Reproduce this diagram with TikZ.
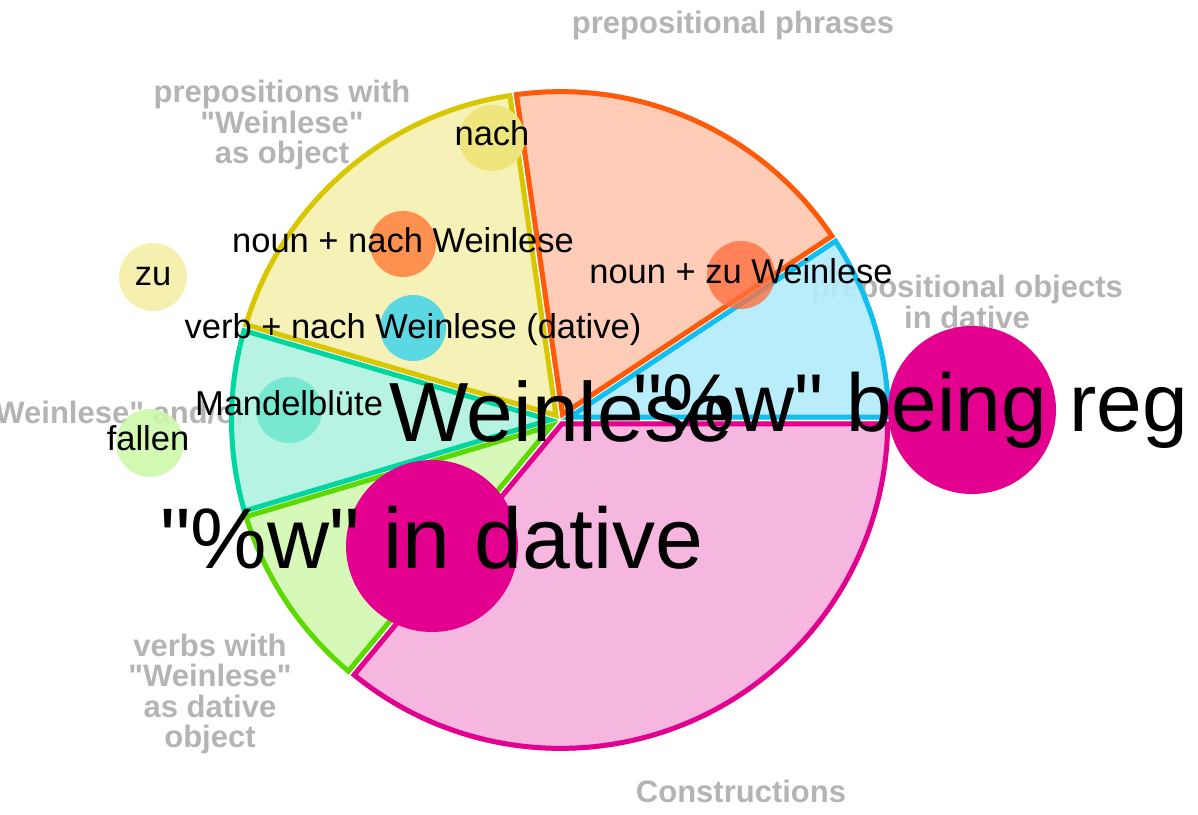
\documentclass[tikz,border=0pt]{standalone}
\usepackage{fontspec}
\setmainfont{Liberation Sans}[Ligatures=TeXOff]
\usetikzlibrary{calc}

\definecolor{bluefill}{HTML}{B3ECFB}
\definecolor{bluedraw}{HTML}{10BEF0}
\definecolor{salmonfill}{HTML}{FFC9B1}
\definecolor{salmondraw}{HTML}{FF5A0A}
\definecolor{yellowfill}{HTML}{F5F1B1}
\definecolor{yellowdraw}{HTML}{D8C700}
\definecolor{tealfill}{HTML}{B1F2E1}
\definecolor{tealdraw}{HTML}{00D7A0}
\definecolor{greenfill}{HTML}{D3F8B3}
\definecolor{greendraw}{HTML}{5CDA00}
\definecolor{pinkfill}{HTML}{F4B0DD}
\definecolor{pinkdraw}{HTML}{E2008F}
\definecolor{magentabub}{HTML}{E4008F}
\definecolor{labelgray}{HTML}{B4B4B4}

% outline of one wedge: start angle, end angle (counter-clockwise, degrees)
\newcommand{\wedgepath}[2]{%
  ($(C)+({-(#1+#2)/2}:1.5)$) -- ++({-#1}:329.5)
  arc[start angle=-#1, end angle=-#2, radius=329.5] -- cycle}

% filled wedge with a border lying inside its own outline
\newcommand{\pieslice}[4]{%
  \begin{scope}
    \clip \wedgepath{#1}{#2};
    \fill[wedgefill, #3] \wedgepath{#1}{#2};
    \draw[wedgeline, #4] \wedgepath{#1}{#2};
  \end{scope}}

\begin{document}
\begin{tikzpicture}[x=1pt, y=-1pt,
  wedgefill/.style={fill opacity=0.92},
  wedgeline/.style={line width=10pt, line join=miter},
  bubble/.style={circle, inner sep=0pt, minimum size=#1},
  graylabel/.style={text=labelgray, font=\fontsize{31}{30.5}\selectfont\bfseries,
    inner sep=0pt, align=center},
  smalltext/.style={font=\fontsize{34.5}{36}\selectfont, inner sep=0pt, anchor=base},
  bigtext/.style={font=\fontsize{#1}{#1}\selectfont, inner sep=0pt, anchor=base}
]
\useasboundingbox (0,0) rectangle (1198,814);
\clip (0,0) rectangle (1198,814);

\coordinate (C) at (560,420);

% category labels around the pie
\node[graylabel, anchor=base] (lbl-pp) at (733,33) {prepositional phrases};
\node[graylabel] (lbl-pw) at (282,125) {prepositions with\\"Weinlese"\\as object};
\node[graylabel] (lbl-po) at (967,302) {prepositional objects\\in dative};
\node[graylabel, anchor=base east] (lbl-wa) at (282,423) {"Weinlese" and/or ...};
\node[graylabel] (lbl-vw) at (210,694) {verbs with\\"Weinlese"\\as dative\\object};
\node[graylabel, anchor=base] (lbl-cons) at (741,802) {Constructions};

% pie wedges
\pieslice{0}{33.5}{bluefill}{bluedraw}
\pieslice{33.5}{98.2}{salmonfill}{salmondraw}
\pieslice{98.2}{163.7}{yellowfill}{yellowdraw}
\pieslice{163.7}{196.6}{tealfill}{tealdraw}
\pieslice{196.6}{230.4}{greenfill}{greendraw}
\pieslice{230.4}{360}{pinkfill}{pinkdraw}

% bubbles
\node[bubble=66pt, fill={rgb,255:red,238;green,230;blue,125}] (b-nach) at (492,138) {};
\node[bubble=66pt, fill={rgb,255:red,255;green,145;blue,80}] (b-nnw) at (403,244) {};
\node[bubble=66pt, fill={rgb,255:red,92;green,216;blue,226}] (b-vnw) at (413,328) {};
\node[bubble=68pt, fill={rgb,255:red,245;green,240;blue,176}] (b-zu) at (153,277) {};
\node[bubble=66pt, fill={rgb,255:red,120;green,232;blue,208}] (b-mandel) at (289,410) {};
\node[bubble=68pt, fill={rgb,255:red,204;green,248;blue,170}, fill opacity=0.9] (b-fallen) at (150,443) {};
\node[bubble=68pt, fill={rgb,255:red,255;green,112;blue,64}, fill opacity=0.8] (b-nzw) at (741,275) {};
\node[bubble=172pt, fill=magentabub] (b-dative) at (432,546) {};
\node[bubble=168pt, fill=magentabub] (b-reg) at (972,410) {};

% texts
\node[smalltext] (t-nach) at (492,145) {nach};
\node[smalltext] (t-nnw) at (403,252) {noun + nach Weinlese};
\node[smalltext] (t-vnw) at (413,338) {verb + nach Weinlese (dative)};
\node[smalltext] (t-zu) at (153,285) {zu};
\node[smalltext] (t-mandel) at (289,415) {Mandelblüte};
\node[smalltext] (t-fallen) at (148,450) {fallen};
\node[smalltext] (t-nzw) at (741,283) {noun + zu Weinlese};
\node[bigtext=84] (t-wein) at (561,441) {Weinlese};
\node[bigtext=82, anchor=base west] (t-reg) at (633,431) {"\%w" being reg};
\node[bigtext=86] (t-dative) at (432,568) {"\%w" in dative};
\end{tikzpicture}
\end{document}
